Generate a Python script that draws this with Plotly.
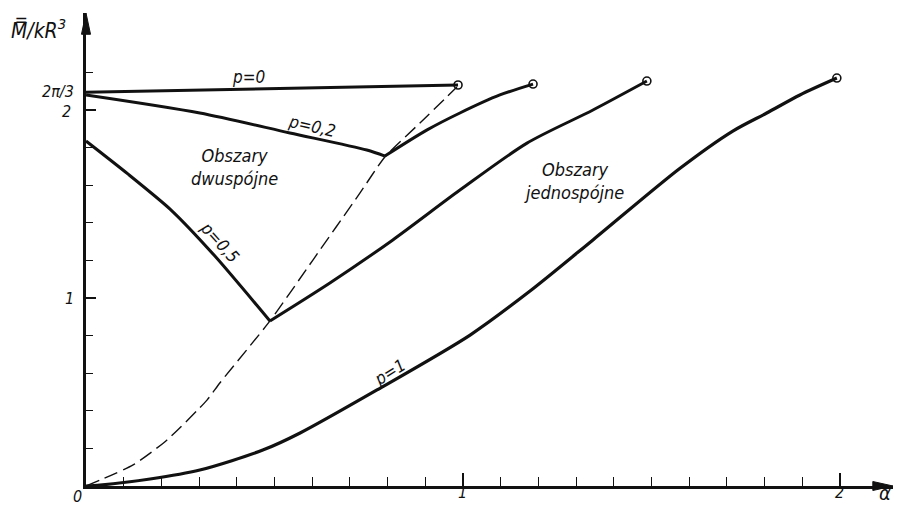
import plotly.graph_objects as go

# ---- data (alpha, M/kR^3) ----
p0_a = [0.0, 0.987]
p0_m = [2.094, 2.133]

p02_dw_a = [0.0, 0.302, 0.541, 0.745, 0.793]
p02_dw_m = [2.080, 1.984, 1.878, 1.787, 1.755]
p02_j_a = [0.793, 0.905, 0.992, 1.098, 1.186]
p02_j_m = [1.755, 1.894, 1.984, 2.080, 2.138]

p05_dw_a = [0.0, 0.111, 0.223, 0.342, 0.488]
p05_dw_m = [1.835, 1.660, 1.473, 1.223, 0.878]
p05_j_a = [0.488, 0.647, 0.814, 0.992, 1.170, 1.345, 1.488]
p05_j_m = [0.878, 1.080, 1.309, 1.574, 1.824, 2.000, 2.154]

p1_a = [0.0, 0.037, 0.170, 0.302, 0.469, 0.568, 0.772, 1.019, 1.178, 1.345,
        1.576, 1.716, 1.806, 1.894, 1.992]
p1_m = [0.0, 0.005, 0.037, 0.085, 0.191, 0.282, 0.511, 0.803, 1.037, 1.309,
        1.690, 1.888, 1.984, 2.080, 2.170]

dash_a = [0.0, 0.125, 0.215, 0.321, 0.355, 0.488, 0.602, 0.727, 0.793, 0.886, 0.984]
dash_m = [0.0, 0.112, 0.245, 0.457, 0.548, 0.878, 1.202, 1.559, 1.750, 1.931, 2.122]

end_a = [p0_a[-1], p02_j_a[-1], p05_j_a[-1], p1_a[-1]]
end_m = [p0_m[-1], p02_j_m[-1], p05_j_m[-1], p1_m[-1]]

x_major = [1, 2]
x_minor = [0.1, 0.2, 0.3, 0.4, 0.5, 0.6, 0.7, 0.8, 0.9, 1.1, 1.2, 1.3, 1.4,
           1.5, 1.6, 1.7, 1.8, 1.9]
y_major = [1, 2]
y_minor = [0.2, 0.4, 0.6, 0.8, 1.2, 1.4, 1.6, 1.8, 2.2]

x_labels = [(0, "0", -9, -10), (1, "1", 0, -6), (2, "2", 0, -6)]
y_labels = [(2.094, "2\u03c0/3", -10, 1), (2, "2", -13, -1), (1, "1", -10, 0)]

FONT = "DejaVu Sans Condensed, Liberation Sans Narrow, DejaVu Sans, sans-serif"
BLACK = "#111111"

fig = go.Figure()

def curve(a, m, width=3.0, shape="linear", dash=None, smoothing=0.8):
    fig.add_trace(go.Scatter(
        x=a, y=m, mode="lines",
        line=dict(color=BLACK, width=width, shape=shape,
                  smoothing=smoothing if shape == "spline" else None, dash=dash),
        hoverinfo="skip", showlegend=False))

curve(dash_a, dash_m, width=1.4, shape="spline", dash="14px,6px", smoothing=0.6)
curve(p0_a, p0_m, width=3.0)
curve(p02_dw_a, p02_dw_m, width=3.0, shape="spline")
curve(p02_j_a, p02_j_m, width=3.0, shape="spline")
curve(p05_dw_a, p05_dw_m, width=3.0, shape="spline", smoothing=0.6)
curve(p05_j_a, p05_j_m, width=3.0, shape="spline")
curve(p1_a, p1_m, width=3.2, shape="spline")

fig.add_trace(go.Scatter(
    x=end_a, y=end_m, mode="markers", cliponaxis=False,
    marker=dict(symbol="circle-open", size=8, color=BLACK, line=dict(width=1.6)),
    hoverinfo="skip", showlegend=False))

# curve / region labels
labels = [
    (0.430, 2.176, "p=0", 0),
    (0.599, 1.915, "p=0,2", 13),
    (0.355, 1.298, "p=0,5", 48),
    (0.806, 0.606, "p=1", -32),
    (0.395, 1.697, "Obszary<br>dwusp\u00f3jne", 0),
    (1.294, 1.622, "Obszary<br>jednosp\u00f3jne", 0),
]
for a, m, t, ang in labels:
    fig.add_annotation(x=a, y=m, text=t, showarrow=False, textangle=ang,
                       font=dict(family=FONT, size=18 if "Obszary" in t else 17,
                                 color=BLACK, style="italic"),
                       xanchor="center", yanchor="middle")

tick_font = dict(family=FONT, size=16, color=BLACK, style="italic")
for v, t, xs, ys in x_labels:
    fig.add_annotation(x=v, y=0, text=t, showarrow=False, xanchor="center",
                       yanchor="middle", xshift=xs, yshift=ys, font=tick_font)
for v, t, xs, ys in y_labels:
    fig.add_annotation(x=0, y=v, text=t, showarrow=False, xanchor="right",
                       yanchor="middle", xshift=xs, yshift=ys, font=tick_font)

fig.add_annotation(x=2.119, y=0, text="\u03b1", showarrow=False, xanchor="center",
                   yanchor="middle", yshift=-7,
                   font=dict(family=FONT, size=20, color=BLACK, style="italic"))
fig.add_annotation(xref="paper", yref="paper", x=-0.095, y=1.0,
                   text="M\u033f/kR<sup>3</sup>", showarrow=False,
                   xanchor="left", yanchor="top",
                   font=dict(family=FONT, size=21, color=BLACK, style="italic"))

# arrowheads on the axes (paper coordinates, plot area 807 x 473 px)
fig.add_shape(type="path", xref="paper", yref="paper",
              path="M 0 1 L -0.0056 0.955 L 0.0056 0.955 Z",
              fillcolor=BLACK, line=dict(color=BLACK, width=1))
fig.add_shape(type="path", xref="paper", yref="paper",
              path="M 1 0 L 0.975 0.0095 L 0.975 -0.0095 Z",
              fillcolor=BLACK, line=dict(color=BLACK, width=1))

axis_common = dict(showgrid=False, zeroline=False, showline=True, linecolor=BLACK,
                   linewidth=2.5, ticks="inside", tickcolor=BLACK, tickwidth=1.5,
                   showticklabels=False, tickmode="array")

fig.update_xaxes(range=[0, 2.141], tickvals=x_major, ticklen=13,
                 minor=dict(tickmode="array", tickvals=x_minor, ticks="inside",
                            ticklen=9, tickwidth=1.3, tickcolor=BLACK),
                 **axis_common)
fig.update_yaxes(range=[0, 2.516], tickvals=y_major, ticklen=10,
                 minor=dict(tickmode="array", tickvals=y_minor, ticks="inside",
                            ticklen=7, tickwidth=1.3, tickcolor=BLACK),
                 **axis_common)

fig.update_layout(width=898, height=505,
                  margin=dict(l=86, r=5, t=13, b=19),
                  paper_bgcolor="white", plot_bgcolor="white",
                  showlegend=False)

fig.write_html("out.html",
               config={"displayModeBar": False},
               post_script="document.body.style.margin='0';"
                           "document.documentElement.style.overflow='hidden';")
